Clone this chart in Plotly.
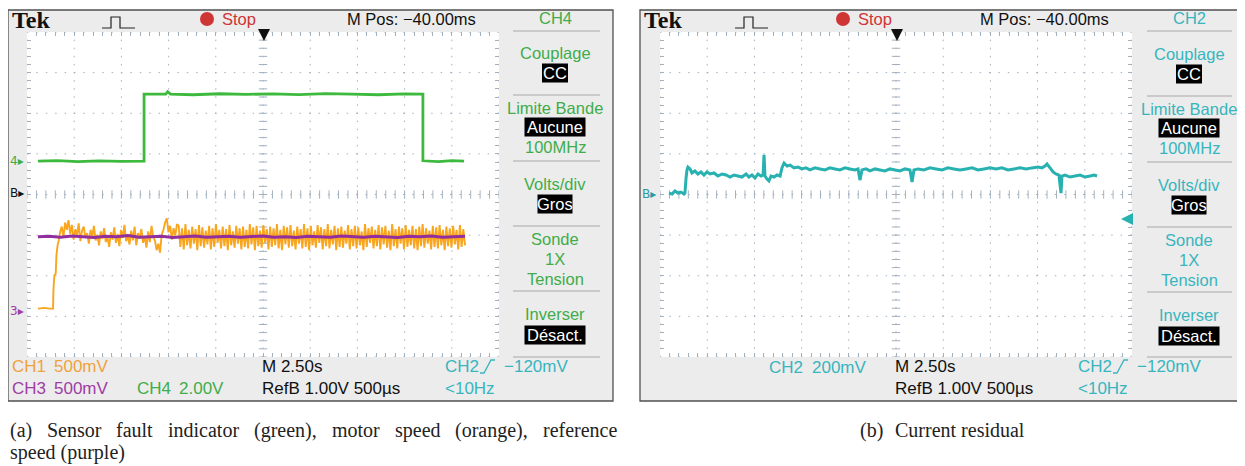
import numpy as np
import plotly.graph_objects as go

W, H = 1245, 466          # browser window
OX, OY = 8, 8             # default page margin of the html body
FW, FH = W - OX, H - OY   # figure size that fits the window

# ---------------- data ----------------
# Panel (a): time in seconds (M 2.50 s/div), values in volts
green_t = [0.58, 1.6, 2.7, 3.8, 5.0, 6.2, 6.2, 6.9, 7.35, 7.45, 7.6, 8.8, 10.2, 11.6,
           13.0, 14.4, 15.8, 17.2, 18.6, 20.0, 20.97, 20.97, 21.8, 22.5, 23.15]
green_v = [0.0, 0.03, -0.02, 0.02, -0.01, 0.0, 3.3, 3.28, 3.3, 3.42, 3.3, 3.27, 3.32, 3.29,
           3.31, 3.28, 3.33, 3.3, 3.27, 3.31, 3.3, 0.02, -0.02, 0.03, 0.0]

orange_head_t = [0.58, 0.9, 1.2, 1.38, 1.40, 1.45, 1.52, 1.56, 1.62, 1.68]
orange_head_v = [0.02, 0.03, 0.02, 0.02, 0.25, 0.43, 0.45, 0.68, 0.80, 0.86]
orange_band_start, orange_band_end = 1.75, 23.2
orange_band_cv = [
    96, 103, 90, 108, 99, 111, 94, 105, 87, 100, 92, 107, 85, 98, 103, 89, 95, 82, 99, 91,
    104, 86, 93, 80, 97, 88, 101, 84, 90, 78, 96, 87, 102, 83, 94, 79, 99, 89, 105, 85,
    92, 81, 98, 86, 103, 80, 95, 88, 100, 83, 91, 77, 97, 84, 104, 90, 86, 74, 82, 71,
    93, 99, 108, 113, 96, 104, 87, 101, 92, 106,
    104, 78, 101, 75, 106, 80, 99, 76, 103, 82, 100, 74, 105, 79, 102, 77, 98, 81, 104, 75,
    101, 78, 106, 83, 99, 76, 103, 79, 100, 74, 105, 80, 97, 77, 104, 82, 101, 75, 103, 78,
    99, 76, 106, 81, 102, 74, 104, 79, 98, 77, 105, 83, 100, 75, 103, 78, 101, 80, 106, 76,
    99, 74, 104, 81, 102, 77, 105, 79, 98, 75, 103, 82, 100, 76, 106, 78, 101, 74, 104, 80,
    97, 77, 105, 83, 102, 75, 100, 79, 106, 76, 99, 81, 104, 74, 101, 78, 103, 77, 98, 82,
    105, 75, 100, 79, 104, 76, 102, 80, 97, 74, 106, 78, 101, 83, 103, 76, 99, 79, 105, 75,
    102, 81, 104, 77, 98, 74, 106, 79, 100, 76, 103, 82, 101, 75, 105, 78, 99, 80, 104, 76,
    100, 74, 103, 79, 106, 77, 101, 82, 98, 75, 104, 78, 102, 76, 105, 80, 99, 74, 103, 79,
    101, 77, 104, 81, 99, 75, 105, 78, 100, 80]

purple_start, purple_end = 0.58, 23.2
purple_v = [0.905, 0.91, 0.90, 0.915, 0.905, 0.895, 0.91, 0.905, 0.92, 0.90,
            0.905, 0.91, 0.895, 0.905, 0.915, 0.90, 0.905, 0.91, 0.90, 0.905,
            0.915, 0.90, 0.905, 0.895, 0.91, 0.905, 0.90, 0.915, 0.905, 0.90,
            0.91, 0.905, 0.895, 0.91, 0.905, 0.915, 0.90, 0.905, 0.91]

# Panel (b): current residual CH2 (200 mV/div)
cyan_t = [0.48, 0.64, 0.79, 0.95, 1.11, 1.27, 1.32, 1.38, 1.43, 1.48, 1.59, 1.69, 1.85, 2.01,
          2.17, 2.33, 2.49, 2.65, 2.86, 3.07, 3.28, 3.50, 3.71, 3.92, 4.13, 4.34, 4.56, 4.71,
          4.87, 5.03, 5.19, 5.35, 5.46, 5.51, 5.56, 5.67, 5.77, 5.88, 6.04, 6.20, 6.36, 6.46,
          6.57, 6.73, 6.89, 7.10, 7.31, 7.52, 7.73, 7.94, 8.21, 8.47, 8.74, 9.00, 9.27, 9.53,
          9.80, 10.06, 10.33, 10.49, 10.59, 10.70, 10.91, 11.12, 11.39, 11.65, 11.92, 12.18,
          12.45, 12.71, 12.98, 13.24, 13.35, 13.45, 13.67, 13.98, 14.30, 14.62, 14.94, 15.25,
          15.57, 15.89, 16.21, 16.53, 16.84, 17.16, 17.48, 17.80, 18.11, 18.43, 18.75, 19.07,
          19.39, 19.70, 20.02, 20.23, 20.39, 20.50, 20.66, 20.82, 20.97, 21.13, 21.24, 21.29,
          21.45, 21.72, 21.98, 22.25, 22.51, 22.78, 22.99, 23.15]
cyan_v = [0.007, 0.002, 0.017, 0.007, 0.012, 0.002, 0.007, 0.081, 0.121, 0.135, 0.126, 0.106,
          0.116, 0.101, 0.111, 0.096, 0.111, 0.101, 0.106, 0.091, 0.101, 0.096, 0.086, 0.096,
          0.091, 0.086, 0.101, 0.086, 0.096, 0.081, 0.101, 0.091, 0.096, 0.195, 0.091, 0.076,
          0.067, 0.091, 0.086, 0.096, 0.091, 0.131, 0.155, 0.140, 0.145, 0.131, 0.135, 0.126,
          0.131, 0.121, 0.131, 0.126, 0.121, 0.131, 0.126, 0.121, 0.131, 0.126, 0.121, 0.126,
          0.071, 0.121, 0.126, 0.116, 0.126, 0.121, 0.116, 0.126, 0.121, 0.116, 0.126, 0.121,
          0.062, 0.121, 0.126, 0.121, 0.131, 0.126, 0.121, 0.131, 0.126, 0.121, 0.126, 0.131,
          0.121, 0.126, 0.131, 0.126, 0.131, 0.121, 0.126, 0.131, 0.126, 0.131, 0.135, 0.131,
          0.140, 0.150, 0.131, 0.111, 0.101, 0.096, 0.007, 0.091, 0.096, 0.086, 0.091, 0.096,
          0.086, 0.091, 0.096, 0.091]

# channel settings: volts/div and ground position (divisions from screen centre)
ch_scale = {"CH1": 0.5, "CH2": 0.2, "CH3": 0.5, "CH4": 2.0}
ch_pos = {"CH1": -2.85, "CH2": 0.0, "CH3": -2.85, "CH4": 0.82}

time_per_div = 2.5
n_hdiv, n_vdiv = 10, 8

# ---------------- styling ----------------
UI = "Liberation Sans"
SERIF = "Liberation Serif"
GRID = "#a3b1bf"
FRAME = "#ececec"
GREEN_T, ORANGE_T, PURPLE_T, TEAL_T = "#40ad4a", "#f0a23c", "#a03ca6", "#38b5be"
GREEN, ORANGE, PURPLE, TEAL = "#3dba3d", "#f9a51e", "#922f9e", "#27b1b1"
RED = "#cf3535"
MENU_FS, READ_FS = 16.5, 17


def px(x):
    return (x - OX) / FW


def py(y):
    return 1 - (y - OY) / FH


def div(v, ch):
    return [val / ch_scale[ch] + ch_pos[ch] for val in v]


shapes, ann = [], []
fig = go.Figure()

# ---------------- frames ----------------
panels = [dict(off=0, xa="x", ya="y", fx0=8, fx1=613, gx0=27, gx1=499, mx=555, sx0=513, sx1=600),
          dict(off=633, xa="x2", ya="y2", fx0=640, fx1=1242, gx0=660, gx1=1132, mx=1189, sx0=1147, sx1=1232)]
GY0, GY1 = 32, 357

for p in panels:
    shapes.append(dict(type="rect", xref="paper", yref="paper", x0=px(p["fx0"]), x1=px(p["fx1"]),
                       y0=py(401), y1=py(10), fillcolor=FRAME, line=dict(color="#505050", width=1.3),
                       layer="below"))
    shapes.append(dict(type="rect", xref="paper", yref="paper", x0=px(p["gx0"]), x1=px(p["gx1"]),
                       y0=py(GY1), y1=py(GY0), fillcolor="white", line=dict(width=0), layer="below"))
    # graticule
    for i in range(n_hdiv + 1):
        shapes.append(dict(type="line", xref=p["xa"], yref=p["ya"], x0=i * time_per_div, x1=i * time_per_div,
                           y0=-n_vdiv / 2, y1=n_vdiv / 2, line=dict(color=GRID, width=1, dash="1.5px,6.6px"),
                           layer="below"))
    for j in range(n_vdiv + 1):
        yv = j - n_vdiv / 2
        shapes.append(dict(type="line", xref=p["xa"], yref=p["ya"], x0=0, x1=n_hdiv * time_per_div,
                           y0=yv, y1=yv, line=dict(color=GRID, width=1, dash="1.5px,7.9px"), layer="below"))
    # centre-line ticks
    yt = np.arange(-4, 4.001, 0.2)
    xt = np.arange(0, 25.001, 0.5)
    fig.add_trace(go.Scatter(x=[12.5] * len(yt), y=yt, mode="markers", xaxis=p["xa"], yaxis=p["ya"],
                             marker=dict(symbol="line-ew", size=6, line=dict(color=GRID, width=1)),
                             hoverinfo="skip", showlegend=False))
    fig.add_trace(go.Scatter(x=xt, y=[0] * len(xt), mode="markers", xaxis=p["xa"], yaxis=p["ya"],
                             marker=dict(symbol="line-ns", size=6, line=dict(color=GRID, width=1)),
                             hoverinfo="skip", showlegend=False))
    # menu separators
    for sy in [31, 95, 161, 226, 291, 357]:
        yy = sy + (1 if p["off"] and sy not in (31, 357) else 0)
        shapes.append(dict(type="line", xref="paper", yref="paper", x0=px(p["sx0"]), x1=px(p["sx1"]),
                           y0=py(yy), y1=py(yy), line=dict(color="#a8a8a8", width=1)))
    o = p["off"]
    # header
    ann.append(dict(x=px(10 + o - (1 if o else 0)), y=py(20), text="<b>Tek</b>", xanchor="left",
                    font=dict(family=SERIF, size=24, color="#111")))
    shapes.append(dict(type="path", xref="paper", yref="paper",
                       path="M {a},{b} L {c},{b} L {c},{d} L {e},{d} L {e},{b} L {f},{b}".format(
                           a=px(102 + o), b=py(28), c=px(111 + o), d=py(17), e=px(120 + o), f=px(135 + o)),
                       line=dict(color="#222", width=1.2)))
    cx = 207 + o + (3 if o else 0)
    shapes.append(dict(type="circle", xref="paper", yref="paper", x0=px(cx - 7), x1=px(cx + 7),
                       y0=py(26), y1=py(12), fillcolor=RED, line=dict(width=0)))
    ann.append(dict(x=px(cx + 13), y=py(19), text="Stop", xanchor="left",
                    font=dict(family=UI, size=MENU_FS, color=RED)))
    ann.append(dict(x=px(411 + o), y=py(19), text="M Pos: \u221240.00ms", xanchor="center",
                    font=dict(family=UI, size=MENU_FS, color="#111")))
    # trigger position arrow
    ann.append(dict(x=px(264 + o), y=py(41), ax=0, ay=-13, xref="paper", yref="paper", text="",
                    showarrow=True, arrowhead=2, arrowsize=1.2, arrowwidth=2, arrowcolor="#111"))
    # bottom readouts common
    ann.append(dict(x=px(260 + o), y=py(366), text="M 2.50s", xanchor="left",
                    font=dict(family=UI, size=READ_FS, color="#111")))
    ann.append(dict(x=px(260 + o), y=py(388), text="RefB 1.00V 500\u00b5s", xanchor="left",
                    font=dict(family=UI, size=READ_FS, color="#111")))
    ann.append(dict(x=px(443 + o), y=py(366), text="CH2", xanchor="left",
                    font=dict(family=UI, size=READ_FS, color=TEAL_T)))
    shapes.append(dict(type="path", xref="paper", yref="paper",
                       path="M {a},{b} L {c},{b} L {d},{e} L {f},{e}".format(
                           a=px(480 + o), b=py(373), c=px(484 + o), d=px(491 + o), e=py(360), f=px(495 + o)),
                       line=dict(color=TEAL_T, width=1.3)))
    ann.append(dict(x=px(502 + o), y=py(366), text="\u2212120mV", xanchor="left",
                    font=dict(family=UI, size=READ_FS, color=TEAL_T)))
    ann.append(dict(x=px(443 + o), y=py(388), text="&lt;10Hz", xanchor="left",
                    font=dict(family=UI, size=READ_FS, color=TEAL_T)))

# menus
menu_rows = [("Couplage", 53, False), ("CC", 73, True), ("Limite Bande", 108, False),
             ("Aucune", 127, True), ("100MHz", 147, False), ("Volts/div", 184, False),
             ("Gros", 204, True), ("Sonde", 239, False), ("1X", 259, False), ("Tension", 279, False),
             ("Inverser", 314, False), ("D\u00e9sact.", 335, True)]
box_w = {"CC": 26, "Aucune": 61, "Gros": 35, "D\u00e9sact.": 61}
for p, col, title in [(panels[0], GREEN_T, "CH4"), (panels[1], TEAL_T, "CH2")]:
    mx = p["mx"]
    dy = 1 if p["off"] else 0
    ann.append(dict(x=px(mx), y=py(18), text=title, xanchor="center",
                    font=dict(family=UI, size=MENU_FS, color=col)))
    for label, yy, inv in menu_rows:
        yy = yy + dy
        if inv:
            bw = box_w[label]
            shapes.append(dict(type="rect", xref="paper", yref="paper", x0=px(mx - bw / 2), x1=px(mx + bw / 2),
                               y0=py(yy + 9.5), y1=py(yy - 9.5), fillcolor="#000", line=dict(width=0)))
        ann.append(dict(x=px(mx), y=py(yy), text=label, xanchor="center",
                        font=dict(family=UI, size=MENU_FS, color="white" if inv else col)))

# panel-specific readouts
for x, y, s, c in [(10, 366, "CH1", ORANGE_T), (52, 366, "500mV", ORANGE_T),
                   (10, 388, "CH3", PURPLE_T), (52, 388, "500mV", PURPLE_T),
                   (135, 388, "CH4", GREEN_T), (177, 388, "2.00V", GREEN_T),
                   (767, 367, "CH2", TEAL_T), (810, 367, "200mV", TEAL_T)]:
    ann.append(dict(x=px(x), y=py(y), text=s, xanchor="left", font=dict(family=UI, size=READ_FS, color=c)))

# ground markers
for x, y, s, c in [(8, 161, "4\u25b8", GREEN_T), (8, 193, "B\u25b8", "#111"), (8, 311, "3\u25b8", PURPLE_T),
                   (640, 194, "B\u25b8", "#2a9aa3")]:
    ann.append(dict(x=px(x), y=py(y), text=s, xanchor="left", font=dict(family="DejaVu Sans", size=12, color=c)))
# CH2 trigger level arrow
ann.append(dict(x=px(1121), y=py(219), ax=11, ay=0, xref="paper", yref="paper", text="",
                showarrow=True, arrowhead=2, arrowsize=1.2, arrowwidth=2, arrowcolor=TEAL))

# captions
cap_words = [("(a)", 8), ("Sensor", 45.1), ("fault", 114.5), ("indicator", 166.1), ("(green),", 252.1),
             ("motor", 329.8), ("speed", 392.5), ("(orange),", 452.9), ("reference", 540.6)]
for w_, x in cap_words:
    ann.append(dict(x=px(x), y=py(430), text=w_, xanchor="left",
                    font=dict(family=SERIF, size=20, color="#222")))
ann.append(dict(x=px(8), y=py(452), text="speed (purple)", xanchor="left",
                font=dict(family=SERIF, size=20, color="#222")))
ann.append(dict(x=px(858), y=py(430), text="(b)", xanchor="left",
                font=dict(family=SERIF, size=20, color="#222")))
ann.append(dict(x=px(893), y=py(430), text="Current residual", xanchor="left",
                font=dict(family=SERIF, size=20, color="#222")))

for a in ann:
    a.setdefault("xref", "paper")
    a.setdefault("yref", "paper")
    a.setdefault("showarrow", False)
    a.setdefault("yanchor", "middle")

# ---------------- traces ----------------
fig.add_trace(go.Scatter(x=green_t, y=div(green_v, "CH4"), mode="lines", xaxis="x", yaxis="y",
                         line=dict(color=GREEN, width=2.8), hoverinfo="skip", showlegend=False))
band_t = np.linspace(orange_band_start, orange_band_end, len(orange_band_cv))
orange_t = list(orange_head_t) + list(band_t)
orange_v = list(orange_head_v) + [c / 100 for c in orange_band_cv]
fig.add_trace(go.Scatter(x=orange_t, y=div(orange_v, "CH1"), mode="lines", xaxis="x", yaxis="y",
                         line=dict(color=ORANGE, width=1.9, simplify=False), hoverinfo="skip",
                         showlegend=False))
purple_t = np.linspace(purple_start, purple_end, len(purple_v))
fig.add_trace(go.Scatter(x=purple_t, y=div(purple_v, "CH3"), mode="lines", xaxis="x", yaxis="y",
                         line=dict(color=PURPLE, width=3), hoverinfo="skip", showlegend=False))
fig.add_trace(go.Scatter(x=cyan_t, y=div(cyan_v, "CH2"), mode="lines", xaxis="x2", yaxis="y2",
                         line=dict(color=TEAL, width=3, simplify=False), hoverinfo="skip", showlegend=False))


def xaxis(p, anchor):
    return dict(domain=[px(p["gx0"]), px(p["gx1"])], range=[0, n_hdiv * time_per_div], anchor=anchor,
                showgrid=False, zeroline=False, showticklabels=False, showline=False,
                ticks="inside", ticklen=4, tickcolor=GRID, dtick=time_per_div, tick0=0, mirror="ticks",
                minor=dict(dtick=time_per_div / 5, ticks="inside", ticklen=4, tickcolor=GRID),
                fixedrange=True)


def yaxis(anchor):
    return dict(domain=[py(GY1), py(GY0)], range=[-n_vdiv / 2, n_vdiv / 2], anchor=anchor,
                showgrid=False, zeroline=False, showticklabels=False, showline=False,
                ticks="inside", ticklen=4, tickcolor=GRID, dtick=1, tick0=0, mirror="ticks",
                minor=dict(dtick=0.2, ticks="inside", ticklen=4, tickcolor=GRID), fixedrange=True)


fig.update_layout(
    width=FW, height=FH, margin=dict(l=0, r=0, t=0, b=0),
    paper_bgcolor="white", plot_bgcolor="rgba(0,0,0,0)",
    xaxis=xaxis(panels[0], "y"), yaxis=yaxis("x"),
    xaxis2=xaxis(panels[1], "y2"), yaxis2=yaxis("x2"),
    shapes=shapes, annotations=ann, showlegend=False,
)

fig.write_html("out.html", config={"displayModeBar": False})
